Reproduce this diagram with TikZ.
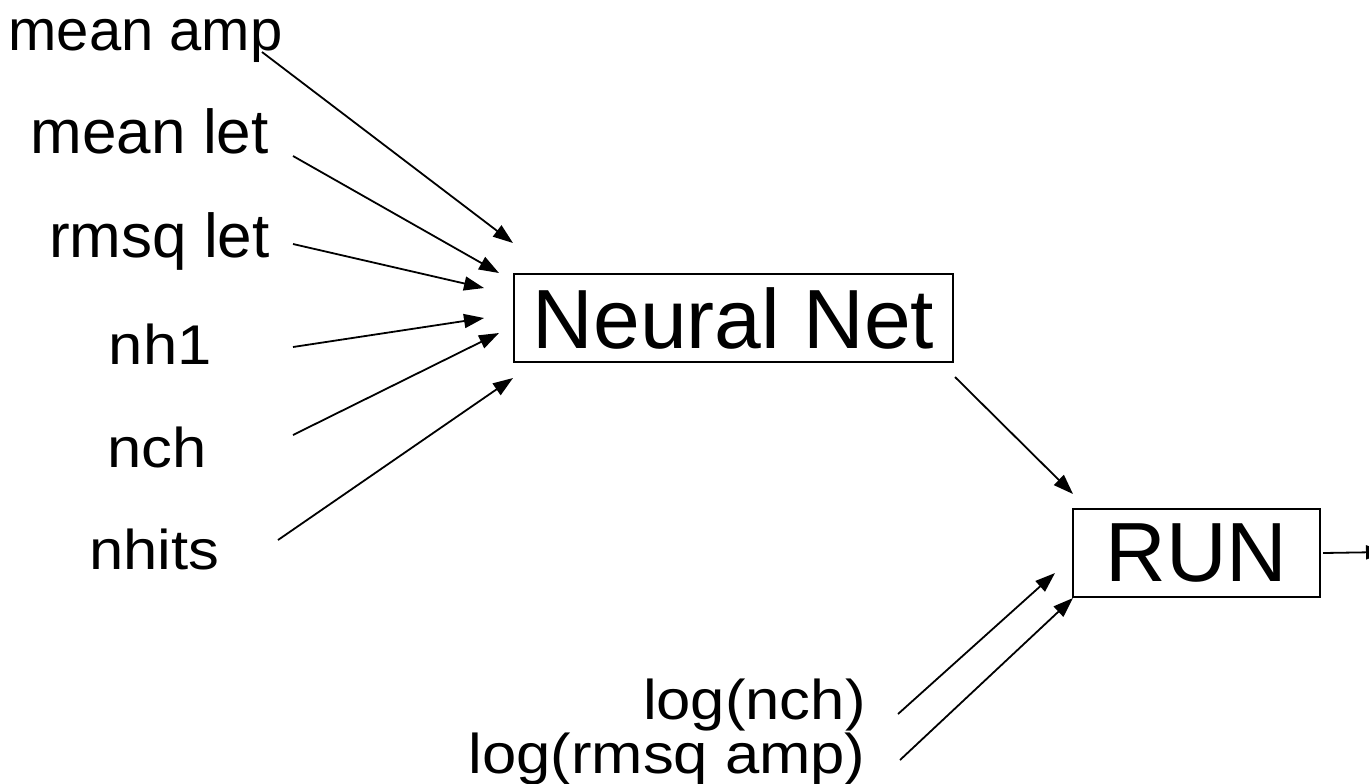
\documentclass[tikz,border=0pt]{standalone}
\usepackage{fontspec}
\setmainfont{Liberation Sans}
\usetikzlibrary{arrows.meta}
\newcommand{\wide}[1]{\scalebox{1.1}[1]{#1}}

\begin{document}
\begin{tikzpicture}[x=0.5pt,y=-0.5pt,
    lbl/.style={inner sep=0pt,anchor=base east,font=\fontsize{31}{37}\selectfont},
    lowlbl/.style={inner sep=0pt,anchor=base east,font=\fontsize{28}{34}\selectfont},
    box/.style={draw,line width=1pt,inner sep=0pt,minimum height=44pt,font=\fontsize{42}{50}\selectfont},
    arr/.style={-{Triangle[length=10pt,width=7pt]},line width=0.9pt}]
          \useasboundingbox (0,0) rectangle (1369,783);
          \clip (0,0) rectangle (1369,783);
          % boxes
          \node[box,minimum width=219.5pt] (net) at (733.5,318) {Neural Net};
          \node[box,minimum width=123.5pt] (run) at (1196.5,553) {RUN};
          % inputs of the net
          \node[lbl,font=\fontsize{29}{35}\selectfont] (meanamp) at (283,50) {mean amp};
          \node[lbl] (meanlet) at (269,153) {mean let};
          \node[lbl] (rmsqlet) at (270,257) {rmsq let};
          \node[lowlbl] (nhone) at (212,364) {\wide{nh1}};
          \node[lowlbl] (nch) at (207,467) {\wide{nch}};
          \node[lowlbl] (nhits) at (220,569) {\wide{nhits}};
          % inputs of the run
          \node[lowlbl] (lognch) at (866,719) {\wide{log(nch)}};
          \node[lowlbl] (logamp) at (866,773) {\wide{log(rmsq amp)}};
          % arrow ends
          \coordinate (a1) at (262,52);   \coordinate (b1) at (513,243);
          \coordinate (a2) at (293,156);  \coordinate (b2) at (499,273);
          \coordinate (a3) at (293,244);  \coordinate (b3) at (484,288);
          \coordinate (a4) at (293,347);  \coordinate (b4) at (484,318);
          \coordinate (a5) at (293,435);  \coordinate (b5) at (499,333);
          \coordinate (a6) at (278,540);  \coordinate (b6) at (513,378);
          \coordinate (a7) at (955,377);  \coordinate (b7) at (1073,494);
          \coordinate (a8) at (898,714);  \coordinate (b8) at (1055,573);
          \coordinate (a9) at (900,760);  \coordinate (b9) at (1073,598);
          \coordinate (out) at (1386,552);
          \draw[arr] (a1) -- (b1);
          \draw[arr] (a2) -- (b2);
          \draw[arr] (a3) -- (b3);
          \draw[arr] (a4) -- (b4);
          \draw[arr] (a5) -- (b5);
          \draw[arr] (a6) -- (b6);
          \draw[arr] (a7) -- (b7);
          \draw[arr] (a8) -- (b8);
          \draw[arr] (a9) -- (b9);
          \draw[arr] (run.east) ++(2,0) -- (out);
        \end{tikzpicture}
\end{document}
